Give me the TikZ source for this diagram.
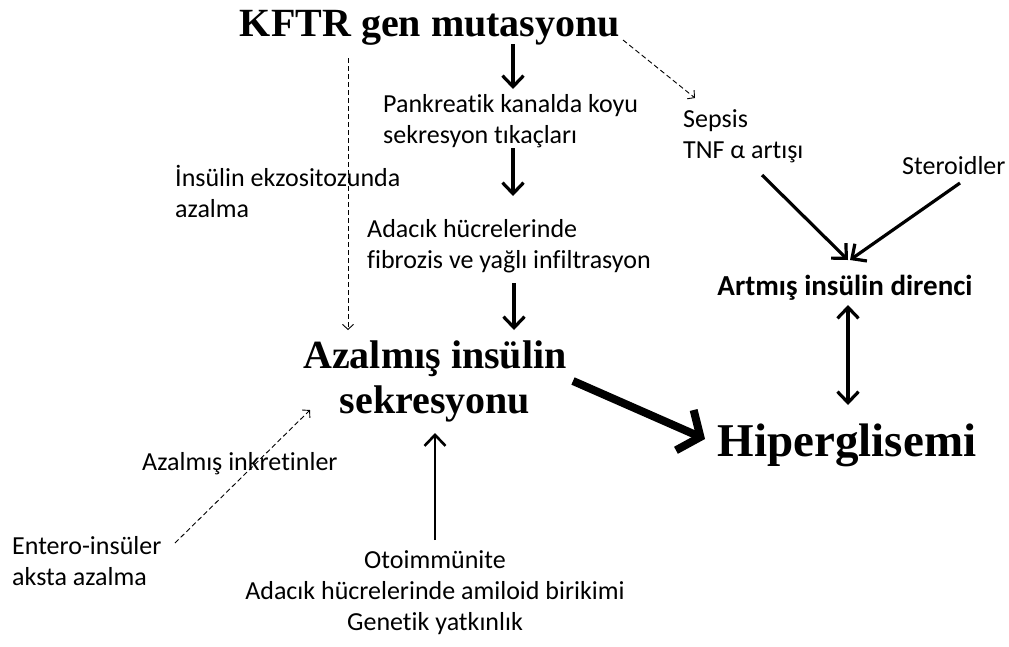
\documentclass[tikz,border=0pt]{standalone}
\usepackage{fontspec}
\setmainfont{Carlito}[Ligatures=NoCommon]
\newfontfamily\tnr{Liberation Serif}
\usetikzlibrary{arrows.meta}
\begin{document}
\begin{tikzpicture}[x=1pt,y=-1pt,
  big/.style={font=\tnr\bfseries\fontsize{40}{45}\selectfont, inner sep=0pt, align=center},
  txt/.style={font=\fontsize{26}{31}\selectfont, inner sep=0pt},
  arr/.style={line width=3.2pt, -{Straight Barb[length=11pt,width=21pt]}},
  dblarr/.style={line width=3.2pt, {Straight Barb[length=11pt,width=21pt]}-{Straight Barb[length=11pt,width=21pt]}},
  thickarr/.style={line width=8pt, -{Straight Barb[length=17pt,width=44pt]}},
  dasharr/.style={line width=0.9pt, dash pattern=on 5pt off 3pt, -{Straight Barb[length=5pt,width=11pt,line width=0.9pt,sharp]}}
]
\useasboundingbox (0,0) rectangle (1009,646);

% text nodes (base = baseline of the last line)
\node[big, anchor=base] (kftr) at (430,36) {KFTR gen mutasyonu};
\node[txt, anchor=base west, align=left] (pank) at (383,143) {Pankreatik kanalda koyu\\sekresyon tıkaçları};
\node[txt, anchor=base west, align=left] (adac) at (367,268) {Adacık hücrelerinde\\fibrozis ve yağlı infiltrasyon};
\node[txt, anchor=base west, align=left] (ekzo) at (175,217) {İnsülin ekzositozunda\\azalma};
\node[big, anchor=base] (azal) at (435,413) {Azalmış insülin\\sekresyonu};
\node[font=\tnr\bfseries\fontsize{47}{52}\selectfont, inner sep=0pt, anchor=base] (hiper) at (847,456) {Hiperglisemi};
\node[txt, anchor=base west, align=left] (sepsis) at (683,158) {Sepsis\\TNF α artışı};
\node[txt, anchor=base west] (ster) at (902,174) {Steroidler};
\node[txt, font=\bfseries\fontsize{29}{31}\selectfont, anchor=base] (artmis) at (845,295) {Artmış insülin direnci};
\node[txt, anchor=base west] (inkr) at (142,470) {Azalmış inkretinler};
\node[txt, anchor=base west, align=left] (entero) at (12,585) {Entero-insüler\\aksta azalma};
\node[txt, anchor=base, align=center] (oto) at (435,630) {Otoimmünite\\Adacık hücrelerinde amiloid birikimi\\Genetik yatkınlık};

% connector end points
\coordinate (a1s) at (513,44);  \coordinate (a1e) at (513,89);
\coordinate (a2s) at (513,148); \coordinate (a2e) at (513,196);
\coordinate (a3s) at (514,283); \coordinate (a3e) at (514,330);
\coordinate (ups) at (435,540); \coordinate (upe) at (435,433);
\coordinate (ts) at (573,381);  \coordinate (te) at (705,439);
\coordinate (ds) at (848,305);  \coordinate (de) at (848,405);
\coordinate (ss) at (762,175);  \coordinate (se) at (848,260);
\coordinate (sts) at (960,183); \coordinate (ste) at (850,260);
\coordinate (v1s) at (348,58);  \coordinate (v1e) at (348,330);
\coordinate (k2s) at (623,40);  \coordinate (k2e) at (695,98);
\coordinate (ens) at (175,543); \coordinate (ene) at (310,410);

\draw[arr] (a1s) -- (a1e);
\draw[arr] (a2s) -- (a2e);
\draw[arr] (a3s) -- (a3e);
\draw[arr, line width=2.6pt] (ups) -- (upe);
\draw[thickarr] (ts) -- (te);
\draw[dblarr] (ds) -- (de);
\draw[arr] (ss) -- (se);
\draw[arr] (sts) -- (ste);
\draw[dasharr] (v1s) -- (v1e);
\draw[dasharr] (k2s) -- (k2e);
\draw[dasharr] (ens) -- (ene);
\end{tikzpicture}
\end{document}
